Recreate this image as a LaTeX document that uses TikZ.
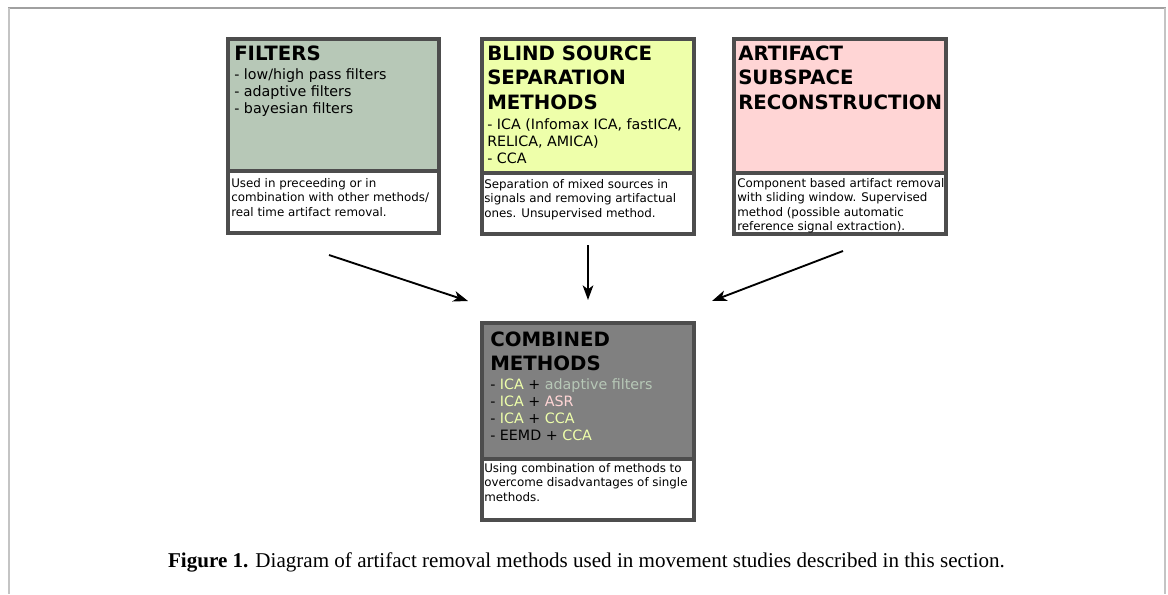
\documentclass[tikz,border=0pt]{standalone}
\usepackage{fontspec}
\setmainfont{Liberation Serif}
\newfontfamily\boxfont{DejaVu Sans}
\usetikzlibrary{arrows.meta}
\definecolor{bord}{HTML}{4D4D4D}
\definecolor{filtc}{HTML}{B7C8B7}
\definecolor{bssc}{HTML}{EEFFAA}
\definecolor{asrc}{HTML}{FFD5D5}
\definecolor{combc}{HTML}{808080}
\definecolor{frametop}{HTML}{A0A0A0}
\definecolor{frameside}{HTML}{C4C4C4}
\newcommand{\ttlfont}{\boxfont\fontsize{14.8}{18.4}\selectfont\bfseries}
\newcommand{\lstfont}{\boxfont\fontsize{10.7}{12.75}\selectfont}
\newcommand{\dscfont}{\boxfont\fontsize{8.9}{10.9}\selectfont}
\newcommand{\toplines}[1]{\parbox[t]{160pt}{\raggedright #1}}
\begin{document}
\begin{tikzpicture}[x=0.75pt,y=-0.75pt,
  upperbox/.style={draw=bord, line width=3pt, inner sep=0, outer sep=0, anchor=north west},
  lowerbox/.style={draw=bord, fill=white, line width=3pt, inner sep=0, outer sep=0, anchor=north west},
  ttlnode/.style={anchor=base west, inner sep=0, font=\ttlfont},
  lstnode/.style={anchor=base west, inner sep=0, font=\lstfont},
  dscnode/.style={anchor=base west, inner sep=0, font=\dscfont},
  arr/.style={-{Stealth[length=11pt,width=8pt,inset=3pt]}, line width=1.4pt}]
\useasboundingbox (0,0) rectangle (1168,594);
% frame
\draw[frametop, line width=1.5pt] (8,7.5) -- (1165.5,7.5);
\draw[frameside, line width=1.5pt] (8.5,7.5) -- (8.5,594);
\draw[frameside, line width=1.5pt] (1165,7.5) -- (1165,594);

% FILTERS
\node[lowerbox, minimum width=158.25pt, minimum height=46.5pt] (fl) at (228,171) {};
\node[upperbox, fill=filtc, minimum width=158.25pt, minimum height=99pt] (fu) at (228,39) {};
\node[ttlnode] (ft) at (234,60) {\toplines{FILTERS}};
\node[lstnode] (fx) at (234,79) {\toplines{- low/high pass filters\\- adaptive filters\\- bayesian filters}};
\node[dscnode] (fd) at (231,187) {\toplines{Used in preceeding or in\\combination with other methods/\\real time artifact removal.}};

% BSS
\node[lowerbox, minimum width=159pt, minimum height=45.75pt] (bl) at (482,173) {};
\node[upperbox, fill=bssc, minimum width=159pt, minimum height=100.5pt] (bu) at (482,39) {};
\node[ttlnode] (bt) at (487,60) {\toplines{BLIND SOURCE\\SEPARATION\\METHODS}};
\node[lstnode] (bx) at (487,129) {\toplines{- ICA (Infomax ICA, fastICA,\\RELICA, AMICA)\\- CCA}};
\node[dscnode] (bd) at (484,188) {\toplines{Separation of mixed sources in\\signals and removing artifactual\\ones. Unsupervised method.}};

% ASR
\node[lowerbox, minimum width=159pt, minimum height=45.75pt] (al) at (734,173) {};
\node[upperbox, fill=asrc, minimum width=159pt, minimum height=100.5pt] (au) at (734,39) {};
\node[ttlnode] (at) at (738,60) {\toplines{ARTIFACT\\SUBSPACE\\RECONSTRUCTION}};
\node[dscnode] (ad) at (737,187) {\toplines{Component based artifact removal\\with sliding window. Supervised\\method (possible automatic\\reference signal extraction).}};

% COMBINED
\node[lowerbox, minimum width=159pt, minimum height=45.75pt] (cl) at (482,459) {};
\node[upperbox, fill=combc, minimum width=159pt, minimum height=102pt] (cu) at (482,323) {};
\node[ttlnode] (ct) at (490,346) {\toplines{COMBINED\\METHODS}};
\node[lstnode] (cx) at (490,389) {\toplines{- \textcolor{bssc}{ICA} + \textcolor{filtc}{adaptive filters}\\- \textcolor{bssc}{ICA} + \textcolor{asrc}{ASR}\\- \textcolor{bssc}{ICA} + \textcolor{bssc}{CCA}\\- EEMD + \textcolor{bssc}{CCA}}};
\node[dscnode] (cd) at (484,472) {\toplines{Using combination of methods to\\overcome disadvantages of single\\methods.}};

% arrows
\coordinate (a1s) at (329,255);
\coordinate (a1e) at (468,301);
\coordinate (a2s) at (588,245);
\coordinate (a2e) at (588,300);
\coordinate (a3s) at (843,251);
\coordinate (a3e) at (712,301);
\draw[arr] (a1s) -- (a1e);
\draw[arr] (a2s) -- (a2e);
\draw[arr] (a3s) -- (a3e);

% caption
\node[anchor=base, inner sep=0, font=\fontsize{15.8}{19}\selectfont] (cap) at (586.5,567) {\textbf{Figure 1.} Diagram of artifact removal methods used in movement studies described in this section.};
\end{tikzpicture}
\end{document}
